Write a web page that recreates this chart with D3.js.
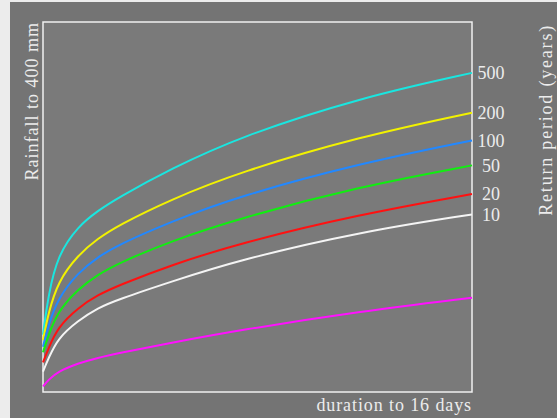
<!DOCTYPE html>
<html>
<head>
<meta charset="utf-8">
<script src="https://cdn.jsdelivr.net/npm/d3@7"></script>
<style>
  html, body { margin: 0; padding: 0; background: #ececec; }
  svg { display: block; }
  text { font-family: "Liberation Serif", "Times New Roman", serif; fill: #ececec; }
</style>
</head>
<body>
<div id="chart"></div>
<script>
// durations in days, rainfall in mm
const durations = [0, 0.2, 0.55, 1.3, 2.05, 2.8, 4.75, 7.35, 11.8, 16];

const rp500 = [62, 105, 148, 179, 196, 210, 241, 276, 318, 345];
const rp200 = [56, 85, 119, 148, 166, 180, 208, 238, 276, 302];
const rp100 = [49, 72, 101, 129, 146, 159, 184, 212, 247, 272];
const rp50  = [43, 61, 87, 111, 127, 139, 163, 188, 222, 245];
const rp20  = [32, 47, 70, 91, 105, 115, 137, 161, 192, 214];
const rp10  = [22, 36, 58, 77, 91, 100, 119, 143, 173, 192];
const lower = [6, 13, 22, 31, 37, 42, 53, 67, 87, 102];

const seriesLabels = ['500', '200', '100', '50', '20', '10', ''];
const seriesValues = [rp500, rp200, rp100, rp50, rp20, rp10, lower];
const seriesColors = ['#19e6e0', '#f2f200', '#2288ff', '#11ee11', '#ff1111', '#f4f4f4', '#ff11ff'];

const W = 557, H = 418;
const margin = { top: 22, right: 85, bottom: 26, left: 43 };
const width = W - margin.left - margin.right;
const height = H - margin.top - margin.bottom;

const svg = d3.select('#chart').append('svg')
  .attr('width', W)
  .attr('height', H);

// outer grey panel
svg.append('rect')
  .attr('x', 10).attr('y', 2)
  .attr('width', W - 10).attr('height', H - 2)
  .attr('fill', '#747474');

const g = svg.append('g')
  .attr('transform', `translate(${margin.left},${margin.top})`);

const x = d3.scaleLinear().domain([0, 16]).range([0, width]);
const y = d3.scaleLinear().domain([0, 400]).range([height, 0]);

// plot area + frame
g.append('rect')
  .attr('x', x(0)).attr('y', y(400))
  .attr('width', x(16) - x(0)).attr('height', y(0) - y(400))
  .attr('fill', '#7a7a7a')
  .attr('stroke', '#f0f0f0')
  .attr('stroke-width', 1.5);

const line = d3.line()
  .x((d, i) => x(durations[i]))
  .y(d => y(d))
  .curve(d3.curveBasis);

g.selectAll('.curve')
  .data(seriesValues)
  .join('path')
  .attr('class', 'curve')
  .attr('d', line)
  .attr('fill', 'none')
  .attr('stroke', (d, i) => seriesColors[i])
  .attr('stroke-width', 2);

// return period labels at the line ends
g.selectAll('.rp-label')
  .data(seriesValues.filter((d, i) => seriesLabels[i] !== ''))
  .join('text')
  .attr('class', 'rp-label')
  .attr('x', x(16) + 19)
  .attr('y', d => y(d[d.length - 1]))
  .attr('dy', '0.35em')
  .attr('text-anchor', 'middle')
  .style('font-size', '18px')
  .text((d, i) => seriesLabels[i]);

// axis titles
svg.append('text')
  .attr('transform', `translate(38,${margin.top}) rotate(-90)`)
  .attr('text-anchor', 'end')
  .style('font-size', '18px')
  .style('letter-spacing', '1px')
  .text('Rainfall to 400 mm');

svg.append('text')
  .attr('x', margin.left + width)
  .attr('y', 411)
  .attr('text-anchor', 'end')
  .style('font-size', '18px')
  .style('letter-spacing', '0.9px')
  .text('duration to 16 days');

svg.append('text')
  .attr('transform', `translate(552,24) rotate(-90)`)
  .attr('text-anchor', 'end')
  .style('font-size', '18px')
  .style('letter-spacing', '1.8px')
  .text('Return period (years)');
</script>
</body>
</html>
